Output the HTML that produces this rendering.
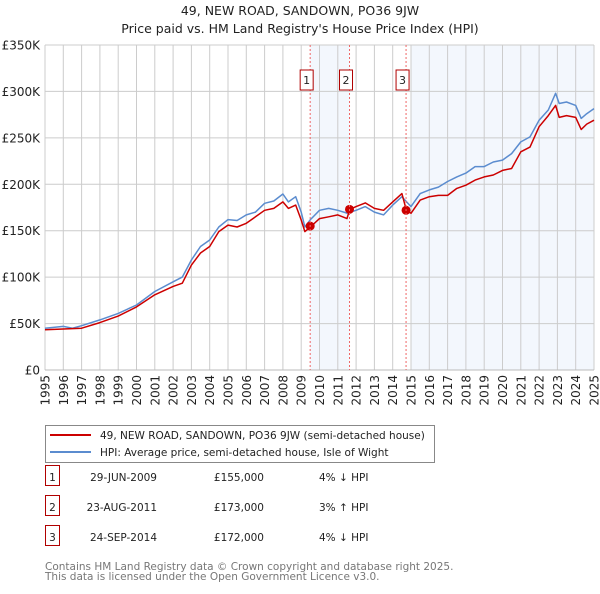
<!DOCTYPE html>
<html><head><meta charset="utf-8"><style>
body{margin:0;background:#fff;width:600px;height:590px;overflow:hidden;font-family:"DejaVu Sans","Liberation Sans",sans-serif;}
svg text{font-family:"DejaVu Sans","Liberation Sans",sans-serif;}
</style></head><body>
<svg id="chart" width="600" height="590" xmlns="http://www.w3.org/2000/svg">
<text x="300" y="15" text-anchor="middle" font-size="12.5" fill="#222">49, NEW ROAD, SANDOWN, PO36 9JW</text>
<text x="300" y="33" text-anchor="middle" font-size="12.5" fill="#222">Price paid vs. HM Land Registry's House Price Index (HPI)</text>
<g id="shade"></g><g id="grid"></g><g id="axes"></g><g id="series"></g><g id="marks"></g>
<g>
<rect x="45.5" y="425.5" width="389" height="37" fill="#fff" stroke="#888"/>
<line x1="50" y1="435" x2="91" y2="435" stroke="#cc0000" stroke-width="2"/>
<text x="100" y="439" font-size="10.5" fill="#222">49, NEW ROAD, SANDOWN, PO36 9JW (semi-detached house)</text>
<line x1="50" y1="452" x2="91" y2="452" stroke="#5b8ccf" stroke-width="2"/>
<text x="100" y="456" font-size="10.5" fill="#222">HPI: Average price, semi-detached house, Isle of Wight</text>
</g>
<g id="table" font-size="10.5" fill="#222"></g>
<text x="45" y="570" font-size="10.5" fill="#777">Contains HM Land Registry data © Crown copyright and database right 2025.</text>
<text x="45" y="580" font-size="10.5" fill="#777">This data is licensed under the Open Government Licence v3.0.</text>
</svg>
<script>
const hpiYears=[1995,1996,1996.5,1997,1998,1999,2000,2001,2002,2002.5,2003,2003.5,2004,2004.5,2005,2005.5,2006,2006.5,2007,2007.5,2008,2008.3,2008.7,2009,2009.2,2009.5,2010,2010.5,2011,2011.5,2012,2012.5,2013,2013.5,2014,2014.5,2015,2015.5,2016,2016.5,2017,2017.5,2018,2018.5,2019,2019.5,2020,2020.5,2021,2021.5,2022,2022.5,2022.9,2023.1,2023.5,2024,2024.3,2024.6,2025];
const hpiValues=[45,47,45,47.7,54,61,70,84.5,95,100,118.5,133,140,154,162,161,167,170,179.5,182,189.5,181,186.6,170,154,162,172,174,172,169,172,176,170,167,177.6,186.6,176,190,194,197,203,208,212,219,219,224,226,233,245.7,251,269,280,298,287,288.6,285,271,276,281.5];
const priceYears=[1995,1997,1998,1999,2000,2001,2002,2002.5,2003,2003.5,2004,2004.5,2005,2005.5,2006,2006.5,2007,2007.5,2008,2008.3,2008.7,2009,2009.2,2009.5,2010,2010.5,2011,2011.5,2011.65,2012,2012.5,2013,2013.5,2014,2014.5,2014.75,2015,2015.5,2016,2016.5,2017,2017.5,2018,2018.5,2019,2019.5,2020,2020.5,2021,2021.5,2022,2022.5,2022.9,2023.1,2023.5,2024,2024.3,2024.6,2025];
const priceValues=[43.4,45,51,58,68,81,90,93.5,113,126,133,149,156,154,158,165,172,174,181,174,177.6,161.5,149,154,163,165,167,163,173,176,180,174,172,181,190,172,168.7,183,186.6,188,188,195.6,199,204.5,208,210,215,217,235,240,262,274,285,272,274,272,259,264.8,269];
const saleYears=[2009.49,2011.64,2014.73];
const saleValues=[155,173,172];
const saleLabels=["1","2","3"];
const saleDates=["29-JUN-2009","23-AUG-2011","24-SEP-2014"];
const salePrices=["£155,000","£173,000","£172,000"];
const saleDiffs=["4% ↓ HPI","3% ↑ HPI","4% ↓ HPI"];
const yTicks=[0,50,100,150,200,250,300,350];
const yTickLabels=["£0","£50K","£100K","£150K","£200K","£250K","£300K","£350K"];

const NS="http://www.w3.org/2000/svg";
const X0=45,X1=594,Y0=370,Y1=45;
const xs=y=>X0+(y-1995)/30*(X1-X0);
const ys=v=>Y0-v/350*(Y0-Y1);
function mk(p,tag,a){const e=document.createElementNS(NS,tag);for(const k in a)e.setAttribute(k,a[k]);p.appendChild(e);return e;}
const shade=document.getElementById('shade'),grid=document.getElementById('grid'),axes=document.getElementById('axes'),series=document.getElementById('series'),marks=document.getElementById('marks'),table=document.getElementById('table');
let r=mk(shade,'rect',{x:xs(saleYears[0]),y:Y1,width:xs(saleYears[1])-xs(saleYears[0]),height:Y0-Y1,fill:'#eef3fc',opacity:0.7});


r=mk(shade,'rect',{x:xs(2015),y:Y1,width:X1-xs(2015),height:Y0-Y1,fill:'#eef3fc',opacity:0.7});


for(let yr=1995;yr<=2025;yr++){
 const x=xs(yr);
 const l=mk(grid,'line',{x1:x,y1:Y1,x2:x,y2:Y0,stroke:'#cccccc','stroke-width':1});
 
 
 const t=mk(axes,'text',{x:0,y:0,transform:`translate(${x+4.5},375) rotate(-90)`,'text-anchor':'end','font-size':'12',fill:'#222'});
 t.textContent=yr;
 
 
}
yTicks.forEach((v,i)=>{
 const y=ys(v);
 const l=mk(grid,'line',{x1:X0,y1:y,x2:X1,y2:y,stroke:'#cccccc','stroke-width':1});
 
 
 const t=mk(axes,'text',{x:40,y:y+4.5,'text-anchor':'end','font-size':'12',fill:'#222'});
 t.textContent=yTickLabels[i];
 
 
});
saleYears.forEach((yr,i)=>{
 const x=xs(yr);
 const l=mk(marks,'line',{x1:x,y1:Y1,x2:x,y2:Y0,stroke:'#ee6666','stroke-width':1,'stroke-dasharray':'2,2'});
 
 
 const b=mk(marks,'rect',{x:x-10,y:70,width:13,height:20,fill:'#fff',stroke:'#b00000','stroke-width':1});
 
 
 const t=mk(marks,'text',{x:x-3.5,y:84,'text-anchor':'middle','font-size':'11',fill:'#222'});
 t.textContent=saleLabels[i];
 
 
});
function path(xa,va){return xa.map((y,i)=>(i?'L':'M')+xs(y).toFixed(1)+','+ys(va[i]).toFixed(1)).join('');}
let p=mk(series,'path',{d:path(hpiYears,hpiValues),fill:'none',stroke:'#5b8ccf','stroke-width':1.5,'stroke-linejoin':'round'});


p=mk(series,'path',{d:path(priceYears,priceValues),fill:'none',stroke:'#cc0000','stroke-width':1.5,'stroke-linejoin':'round'});


saleYears.forEach((yr,i)=>{
 const c=mk(series,'circle',{cx:xs(yr),cy:ys(saleValues[i]),r:4.5,fill:'#cc0000'});
 
 
});
const ax=mk(axes,'line',{x1:X0,y1:Y0,x2:X1,y2:Y0,stroke:'#bbb','stroke-width':1});


saleLabels.forEach((lab,i)=>{
 const y=483+i*30;
 const b=mk(table,'rect',{x:45.5,y:y-17.5,width:14,height:20,fill:'#fff',stroke:'#b00000'});
 
 
 const cells=[[52.5,lab,'middle'],[157,saleDates[i],'end'],[264,salePrices[i],'end'],[319,saleDiffs[i],'start']];
 const names=['table-index','table-date','table-price','table-hpi-diff'];
 cells.forEach((c,j)=>{
  const t=mk(table,'text',{x:c[0],y:y-2,'text-anchor':c[2],fill:'#222'});
  t.textContent=c[1];
  
  
 });
});
</script>
</body></html>
